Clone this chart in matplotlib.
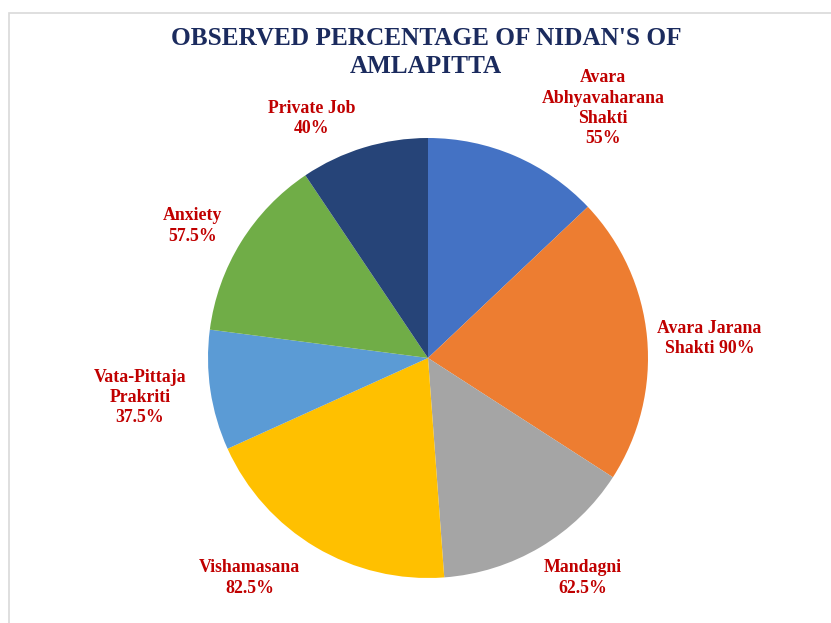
import matplotlib
matplotlib.use("Agg")
import matplotlib.pyplot as plt
from matplotlib.patches import Rectangle

# data
names = ["Avara\nAbhyavaharana\nShakti", "Avara Jarana\nShakti", "Mandagni",
         "Vishamasana", "Vata-Pittaja\nPrakriti", "Anxiety", "Private Job"]
values = [55, 90, 62.5, 82.5, 37.5, 57.5, 40]
value_labels = ["55%", "90%", "62.5%", "82.5%", "37.5%", "57.5%", "40%"]
colors = ["#4472C4", "#ED7D31", "#A5A5A5", "#FFC000", "#5B9BD5", "#70AD47", "#264478"]
title_lines = ["OBSERVED PERCENTAGE OF NIDAN'S OF", "AMLAPITTA"]

# label placement (data coords, pie radius = 1)
label_pos = [(0.795, 1.135), (1.28, 0.09), (0.705, -1.0), (-0.81, -1.0),
             (-1.31, -0.18), (-1.07, 0.60), (-0.53, 1.09)]
# "Avara Jarana Shakti 90%" puts the value on the same line
joiner = ["\n", " ", "\n", "\n", "\n", "\n", "\n"]

plt.rcParams['font.family'] = ['Liberation Serif', 'DejaVu Serif']

fig = plt.figure(figsize=(8.31, 6.23), dpi=100)
fig.patches.append(Rectangle((9 / 831, -0.1), 1.2, 1.1 - 13 / 623,
                             transform=fig.transFigure, fill=False,
                             edgecolor="#D9D9D9", linewidth=1.2))

ax = fig.add_axes([208 / 831, 45 / 623, 440 / 831, 440 / 623])
ax.pie(values, colors=colors, startangle=90, counterclock=False,
       wedgeprops=dict(linewidth=0))
ax.set_xlim(-1, 1)
ax.set_ylim(-1, 1)
ax.set_aspect("equal")
ax.axis("off")

for nm, vl, j, (x, y) in zip(names, value_labels, joiner, label_pos):
    ax.text(x, y, nm + j + vl, ha="center", va="center", color="#C00000",
            fontsize=12.8, fontweight="bold", linespacing=1.25, clip_on=False)

# title as two separate lines
for t, yy in zip(title_lines, [0.938, 0.894]):
    fig.text(0.513, yy, t, ha="center", va="center", color="#1B2B5E",
             fontsize=18.2, fontweight="bold")

fig.savefig("out.png", dpi=100)
